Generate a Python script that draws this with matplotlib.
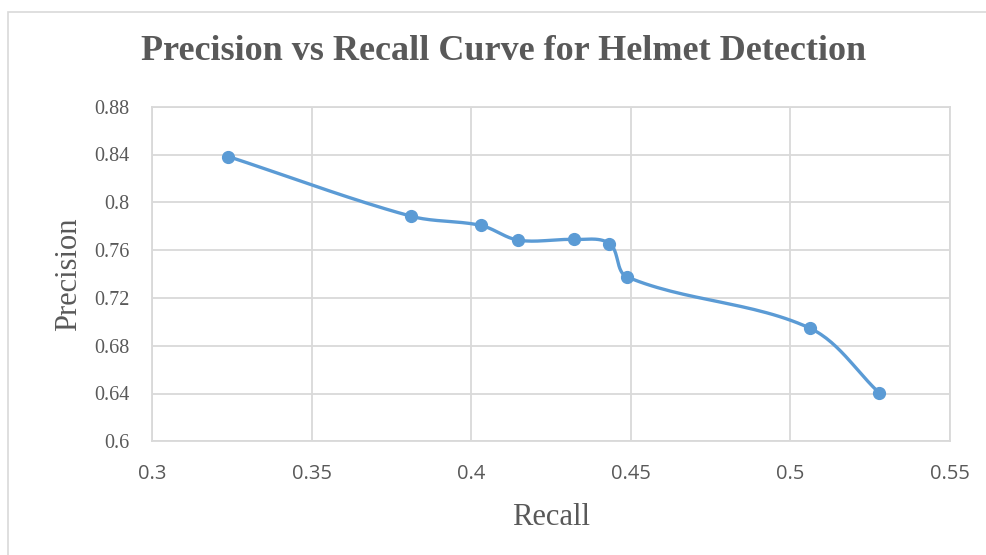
import numpy as np
import matplotlib.pyplot as plt
from matplotlib.patches import Rectangle

# Precision / recall points
recall = [0.3239, 0.3811, 0.4031, 0.4148, 0.4321, 0.4433, 0.4488, 0.5060, 0.5279]
precision = [0.8383, 0.7884, 0.7806, 0.7683, 0.7689, 0.7655, 0.7376, 0.6948, 0.6403]

x_ticks = [0.3, 0.35, 0.4, 0.45, 0.5, 0.55]
x_tick_labels = ["0.3", "0.35", "0.4", "0.45", "0.5", "0.55"]
y_ticks = [0.6, 0.64, 0.68, 0.72, 0.76, 0.8, 0.84, 0.88]
y_tick_labels = ["0.6", "0.64", "0.68", "0.72", "0.76", "0.8", "0.84", "0.88"]

xlim = (0.3, 0.55)
ylim = (0.6, 0.88)

blue = "#5B9BD5"
grid = "#D9D9D9"
text_col = "#595959"

W, H = 798, 335  # plot area in pixels


def smooth(xs, ys, n=30, k=1.0):
    # bezier through the points; handle length tied to the segment length
    # so short segments don't loop back
    px = (np.array(xs) - xlim[0]) / (xlim[1] - xlim[0]) * W
    py = (np.array(ys) - ylim[0]) / (ylim[1] - ylim[0]) * H
    pts = np.column_stack([px, py])
    pts = np.vstack([pts[0], pts, pts[-1]])
    out = []
    t = np.linspace(0, 1, n)[:, None]
    for i in range(1, len(pts) - 2):
        p0, p1, p2, p3 = pts[i - 1], pts[i], pts[i + 1], pts[i + 2]
        seg_len = np.linalg.norm(p2 - p1)
        d1 = (p2 - p0) / np.linalg.norm(p2 - p0)
        d2 = (p3 - p1) / np.linalg.norm(p3 - p1)
        c1 = p1 + d1 * seg_len / 3 * k
        c2 = p2 - d2 * seg_len / 3 * k
        seg = ((1 - t) ** 3) * p1 + 3 * ((1 - t) ** 2) * t * c1 + 3 * (1 - t) * t ** 2 * c2 + t ** 3 * p2
        out.append(seg)
    out = np.vstack(out)
    sx = out[:, 0] / W * (xlim[1] - xlim[0]) + xlim[0]
    sy = out[:, 1] / H * (ylim[1] - ylim[0]) + ylim[0]
    return sx, sy


fig = plt.figure(figsize=(9.86, 5.55), dpi=100)
fig.patches.append(Rectangle((8 / 986, -0.1), 1.2, 1 - 12 / 555 + 0.1,
                             transform=fig.transFigure, fill=False,
                             edgecolor=grid, linewidth=1.2))

ax = fig.add_axes([152 / 986, 1 - 441.3 / 555, W / 986, 334.6 / 555])

sx, sy = smooth(recall, precision)
ax.plot(sx, sy, color=blue, linewidth=2.4, solid_capstyle="round", zorder=3)
ax.plot(recall, precision, "o", color=blue, markersize=8.5, zorder=4)

ax.set_xlim(*xlim)
ax.set_ylim(*ylim)
ax.set_xticks(x_ticks)
ax.set_xticklabels(x_tick_labels, fontfamily="Open Sans", fontsize=14.5, color=text_col)
ax.set_yticks(y_ticks)
ax.set_yticklabels(y_tick_labels, fontfamily="Liberation Serif", fontsize=14.5, color=text_col)
ax.tick_params(axis="x", length=0, pad=16)
ax.tick_params(axis="y", length=0, pad=16)

ax.grid(True, color=grid, linewidth=1.3)
ax.set_axisbelow(True)
for s in ax.spines.values():
    s.set_color(grid)
    s.set_linewidth(1.3)

ax.set_xlabel("Recall", fontfamily="Liberation Serif", fontsize=22, color=text_col, labelpad=14)
ax.set_ylabel("Precision", fontfamily="Liberation Serif", fontsize=22, color=text_col, labelpad=8)

fig.text(504 / 986, 1 - 52 / 555, "Precision vs Recall Curve for Helmet Detection",
         ha="center", va="center", fontfamily="Liberation Serif", fontweight="bold",
         fontsize=26, color=text_col)

fig.savefig("out.png", dpi=100)
